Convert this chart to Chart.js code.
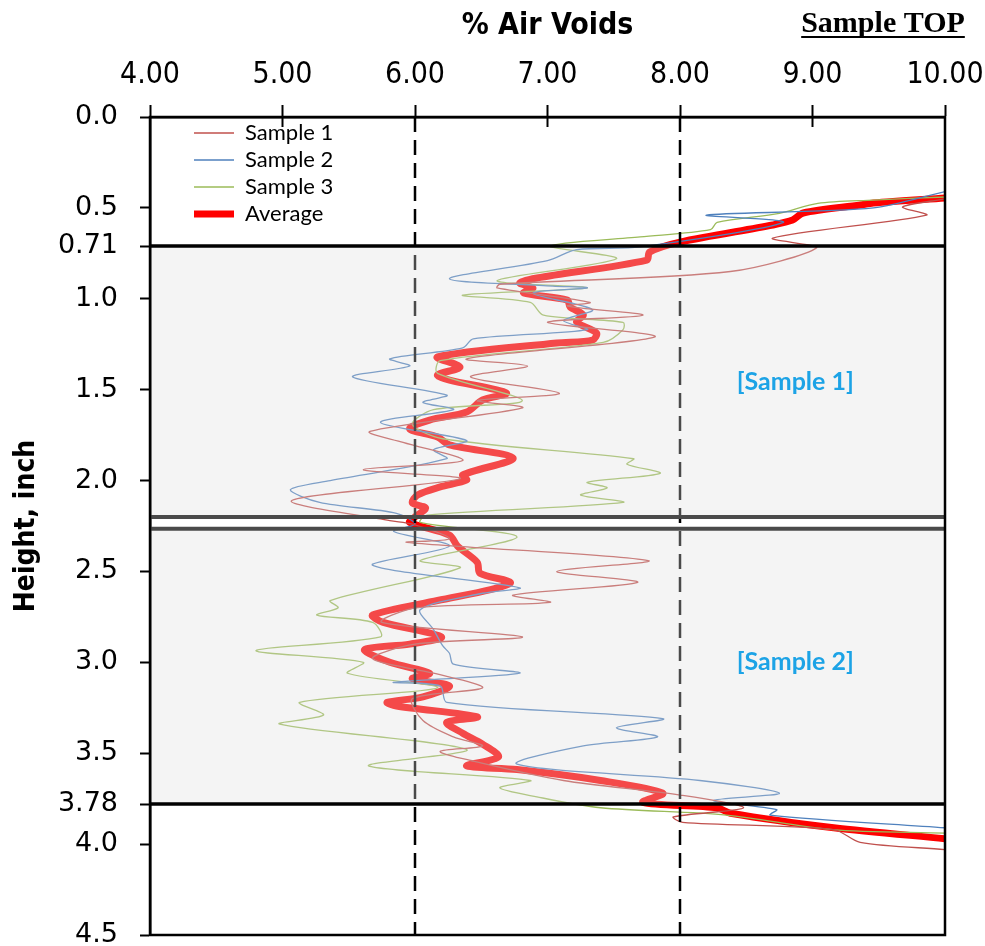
<!DOCTYPE html>
<html>
<head>
<meta charset="utf-8">
<script src="https://cdn.jsdelivr.net/npm/chart.js@4.4.0/dist/chart.umd.min.js"></script>
<style>
  html, body { margin: 0; padding: 0; background: #fff; }
  #wrap { width: 985px; height: 946px; }
</style>
</head>
<body>
<div id="wrap"><canvas id="chart" width="985" height="946"></canvas></div>
<script>
// air voids profile vs height
const s1Height = [0.45, 0.495, 0.54, 0.666, 0.72, 0.85, 0.92, 0.94, 1.02, 1.04, 1.09, 1.13, 1.21, 1.33, 1.37, 1.43, 1.52, 1.56, 1.60, 1.73, 1.79, 1.89, 1.94, 1.99, 2.11, 2.22, 2.24, 2.32, 2.34, 2.44, 2.50, 2.56, 2.63, 2.67, 2.70, 2.78, 2.86, 2.90, 2.98, 3.06, 3.14, 3.20, 3.32, 3.41, 3.46, 3.49, 3.54, 3.65, 3.73, 3.80, 3.85, 3.88, 3.92, 3.99, 4.03];
const s1Voids  = [10.0, 9.68, 9.86, 8.70, 9.03, 8.38, 6.64, 6.62, 7.32, 7.15, 7.72, 7.00, 7.81, 6.39, 6.85, 6.42, 7.09, 6.47, 6.81, 5.66, 5.91, 6.36, 5.61, 6.34, 5.07, 5.81, 5.98, 6.26, 5.94, 7.76, 7.07, 7.68, 6.74, 7.02, 6.01, 5.75, 6.81, 6.00, 5.68, 6.14, 6.51, 5.98, 6.06, 6.29, 6.51, 6.19, 6.42, 7.12, 8.00, 8.48, 7.95, 8.02, 9.16, 9.36, 10.0];

const s2Height = [0.41, 0.50, 0.54, 0.58, 0.715, 0.73, 0.79, 0.89, 0.93, 0.94, 0.97, 1.06, 1.12, 1.17, 1.22, 1.27, 1.33, 1.37, 1.43, 1.53, 1.57, 1.61, 1.68, 1.78, 1.83, 1.88, 2.00, 2.05, 2.12, 2.18, 2.24, 2.28, 2.36, 2.46, 2.50, 2.59, 2.62, 2.71, 2.82, 2.91, 2.95, 3.01, 3.06, 3.11, 3.13, 3.22, 3.31, 3.36, 3.41, 3.46, 3.56, 3.65, 3.72, 3.76, 3.81, 3.84, 3.91];
const s2Voids  = [10.0, 9.46, 8.20, 8.78, 7.70, 7.22, 7.00, 6.26, 7.04, 7.30, 6.89, 7.34, 7.12, 7.30, 6.44, 6.36, 5.81, 5.96, 5.53, 6.24, 6.06, 6.29, 5.74, 6.39, 6.14, 6.24, 5.36, 5.06, 5.28, 5.86, 6.00, 5.84, 6.26, 5.68, 5.89, 6.79, 6.51, 6.04, 6.14, 6.21, 6.26, 6.29, 6.79, 5.84, 6.19, 6.24, 7.87, 7.52, 7.83, 7.27, 6.77, 8.15, 8.75, 8.25, 8.73, 8.68, 10.0];

const s3Height = [0.44, 0.457, 0.475, 0.53, 0.58, 0.62, 0.66, 0.71, 0.78, 0.90, 0.94, 0.98, 1.02, 1.09, 1.13, 1.17, 1.24, 1.34, 1.41, 1.56, 1.61, 1.69, 1.77, 1.88, 1.91, 1.96, 2.01, 2.04, 2.08, 2.12, 2.19, 2.23, 2.31, 2.44, 2.48, 2.66, 2.70, 2.74, 2.78, 2.86, 2.935, 3.00, 3.06, 3.14, 3.22, 3.29, 3.34, 3.48, 3.57, 3.65, 3.69, 3.74, 3.80, 3.84, 3.92, 3.94];
const s3Voids  = [10.0, 9.46, 9.04, 8.75, 8.28, 8.23, 7.70, 7.02, 7.52, 6.62, 7.30, 6.36, 6.87, 6.97, 7.57, 7.57, 7.42, 6.19, 6.17, 6.81, 6.14, 5.98, 6.21, 7.65, 7.60, 7.85, 7.30, 7.45, 7.25, 7.57, 6.09, 6.04, 6.77, 6.04, 6.34, 5.36, 5.42, 5.26, 5.68, 5.74, 4.80, 5.61, 5.49, 6.17, 5.13, 5.31, 4.98, 6.39, 5.65, 6.87, 6.64, 6.92, 7.40, 8.35, 9.15, 10.0];

const avgHeight = [0.445, 0.473, 0.484, 0.528, 0.567, 0.594, 0.688, 0.743, 0.787, 0.886, 0.913, 0.941, 0.968, 1.007, 1.045, 1.089, 1.128, 1.188, 1.227, 1.243, 1.32, 1.375, 1.419, 1.447, 1.518, 1.557, 1.623, 1.667, 1.716, 1.76, 1.804, 1.876, 1.969, 1.997, 2.035, 2.079, 2.123, 2.151, 2.20, 2.23, 2.30, 2.36, 2.45, 2.51, 2.56, 2.60, 2.66, 2.74, 2.78, 2.86, 2.90, 2.93, 3.00, 3.06, 3.09, 3.13, 3.19, 3.22, 3.24, 3.30, 3.33, 3.39, 3.45, 3.52, 3.57, 3.59, 3.65, 3.72, 3.77, 3.80, 3.83, 3.91, 3.97];
const avgVoids  = [10.0, 9.46, 9.36, 8.93, 8.85, 8.70, 8.00, 7.77, 7.75, 6.92, 6.79, 6.89, 6.82, 7.15, 7.17, 7.27, 7.22, 7.37, 7.34, 7.07, 6.17, 6.34, 6.17, 6.26, 6.69, 6.51, 6.39, 6.11, 5.96, 6.17, 6.26, 6.74, 6.36, 6.39, 6.19, 6.02, 5.98, 6.08, 6.00, 5.96, 6.26, 6.32, 6.47, 6.49, 6.72, 6.57, 6.17, 5.68, 5.76, 6.20, 5.96, 5.62, 5.81, 6.11, 5.98, 6.26, 6.06, 5.79, 5.86, 6.47, 6.24, 6.36, 6.51, 6.63, 6.39, 6.77, 7.40, 7.87, 7.72, 8.28, 8.38, 9.16, 10.0];

const xTicks = [4, 5, 6, 7, 8, 9, 10];
const yTicks = [0, 0.5, 0.71, 1, 1.5, 2, 2.5, 3, 3.5, 3.78, 4, 4.5];
const yTickLabels = ['0.0', '0.5', '0.71', '1.0', '1.5', '2.0', '2.5', '3.0', '3.5', '3.78', '4.0', '4.5'];
const guideVoids = [6, 8];
const cutLines = [0.71, 3.78];       // sample top / bottom
const sawLines = [2.20, 2.265];      // saw cut between the two samples
const bandTop = [0.71, 2.265];
const bandBottom = [2.20, 3.78];
const bandNames = ['[Sample 1]', '[Sample 2]'];
const bandNameAt = [[8.87, 1.46], [8.87, 3.0]];

const pts = (hs, vs) => hs.map((h, i) => ({ x: vs[i], y: h }));

const NARROW = '"Liberation Sans Narrow", "DejaVu Sans Condensed", Arial, sans-serif';

const decor = {
  id: 'decor',
  afterLayout(chart) {
    // vertical legend in chartArea gets top = 0, put it inside the plot
    const lg = chart.legend, a = chart.chartArea;
    lg.left = a.left + 39;
    lg.right = lg.left + lg.width;
    lg.top = a.top;
    lg.bottom = lg.top + lg.height;
  },
  afterDatasetsDraw(chart) {
    const { ctx, chartArea: a, scales: { x, y } } = chart;
    ctx.save();
    ctx.strokeStyle = '#000';
    ctx.lineWidth = 2.5;
    ctx.setLineDash([15, 8]);
    guideVoids.forEach(v => {
      const px = x.getPixelForValue(v);
      ctx.beginPath(); ctx.moveTo(px, a.top); ctx.lineTo(px, a.bottom); ctx.stroke();
    });
    ctx.setLineDash([]);

    // grey sample bands sit over the traces
    ctx.fillStyle = 'rgba(222,222,222,0.33)';
    bandTop.forEach((t, i) => {
      const y0 = y.getPixelForValue(t), y1 = y.getPixelForValue(bandBottom[i]);
      ctx.fillRect(a.left, y0, a.right - a.left, y1 - y0);
    });
    ctx.strokeStyle = '#4a4a4a';
    ctx.lineWidth = 4;
    sawLines.forEach(h => {
      const py = y.getPixelForValue(h);
      ctx.beginPath(); ctx.moveTo(a.left, py); ctx.lineTo(a.right, py); ctx.stroke();
    });
    ctx.strokeStyle = '#000';
    ctx.lineWidth = 3.5;
    cutLines.forEach(h => {
      const py = y.getPixelForValue(h);
      ctx.beginPath(); ctx.moveTo(a.left, py); ctx.lineTo(a.right, py); ctx.stroke();
    });

    // frame + inner half of the top ticks
    ctx.lineWidth = 2.5;
    ctx.strokeRect(a.left, a.top, a.right - a.left, a.bottom - a.top);
    ctx.lineWidth = 2;
    xTicks.forEach(v => {
      const px = x.getPixelForValue(v);
      ctx.beginPath(); ctx.moveTo(px, a.top); ctx.lineTo(px, a.top + 10); ctx.stroke();
    });

    ctx.fillStyle = '#1ca3e6';
    ctx.font = 'bold 25px Lato, "Open Sans", sans-serif';
    ctx.textAlign = 'center';
    ctx.textBaseline = 'middle';
    bandNames.forEach((t, i) => {
      ctx.fillText(t, x.getPixelForValue(bandNameAt[i][0]), y.getPixelForValue(bandNameAt[i][1]));
    });

    // Sample TOP, underlined
    ctx.fillStyle = '#000';
    ctx.font = 'bold 30px "Liberation Serif", "Times New Roman", serif';
    ctx.textAlign = 'center';
    ctx.textBaseline = 'alphabetic';
    const tx = 883, ty = 32;
    ctx.fillText('Sample TOP', tx, ty);
    const w = ctx.measureText('Sample TOP').width;
    ctx.lineWidth = 2;
    ctx.beginPath(); ctx.moveTo(tx - w / 2, ty + 5); ctx.lineTo(tx + w / 2, ty + 5); ctx.stroke();
    ctx.restore();
  }
};

const thin = (label, hs, vs, color) => ({
  label, data: pts(hs, vs), borderColor: color, backgroundColor: color,
  borderWidth: 1.3, pointRadius: 0, showLine: true, tension: 0.3
});

new Chart(document.getElementById('chart'), {
  type: 'scatter',
  data: {
    datasets: [
      thin('Sample 1', s1Height, s1Voids, '#c0504d'),
      thin('Sample 2', s2Height, s2Voids, '#4f81bd'),
      thin('Sample 3', s3Height, s3Voids, '#9bbb59'),
      {
        label: 'Average', data: pts(avgHeight, avgVoids),
        borderColor: '#ff0000', backgroundColor: '#ff0000',
        borderWidth: 7, borderCapStyle: 'round', borderJoinStyle: 'round',
        pointRadius: 0, showLine: true, tension: 0.3
      }
    ]
  },
  options: {
    responsive: false,
    animation: false,
    layout: { padding: { left: 0, top: 0, right: 40, bottom: 11 } },
    plugins: {
      tooltip: { enabled: false },
      legend: {
        position: 'chartArea',
        align: 'start',
        labels: {
          usePointStyle: true,
          pointStyle: 'line',
          pointStyleWidth: 40,
          padding: 5,
          color: '#000',
          font: { family: 'Lato, "Open Sans", sans-serif', size: 22 }
        }
      }
    },
    scales: {
      x: {
        type: 'linear',
        position: 'top',
        min: 4, max: 10,
        afterBuildTicks: s => { s.ticks = xTicks.map(v => ({ value: v })); },
        afterFit: s => { s.height = 117; s.paddingLeft = 0; s.paddingRight = 0; },
        ticks: {
          color: '#000',
          padding: 12,
          font: { family: NARROW, size: 30 },
          callback: v => v.toFixed(2)
        },
        grid: { drawOnChartArea: false, tickLength: 12, tickWidth: 2, tickColor: '#000' },
        border: { color: '#000', width: 2.5 },
        title: {
          display: true, text: '% Air Voids', color: '#000',
          padding: { top: 8, bottom: 0 },
          font: { family: NARROW, size: 30, weight: 'bold' }
        }
      },
      y: {
        type: 'linear',
        reverse: true,
        min: 0, max: 4.5,
        afterBuildTicks: s => { s.ticks = yTicks.map(v => ({ value: v })); },
        afterFit: s => { s.width = 150; s.paddingTop = 0; s.paddingBottom = 0; },
        ticks: {
          color: '#000',
          padding: 22,
          font: { family: '"DejaVu Sans", Verdana, sans-serif', size: 27 },
          callback: (v, i) => yTickLabels[i]
        },
        grid: { drawOnChartArea: false, tickLength: 10, tickWidth: 2, tickColor: '#000' },
        border: { color: '#000', width: 2.5 },
        title: {
          display: true, text: 'Height, inch', color: '#000',
          padding: { top: 10, bottom: 0 },
          font: { family: NARROW, size: 28, weight: 'bold' }
        }
      }
    }
  },
  plugins: [decor]
});
</script>
</body>
</html>
